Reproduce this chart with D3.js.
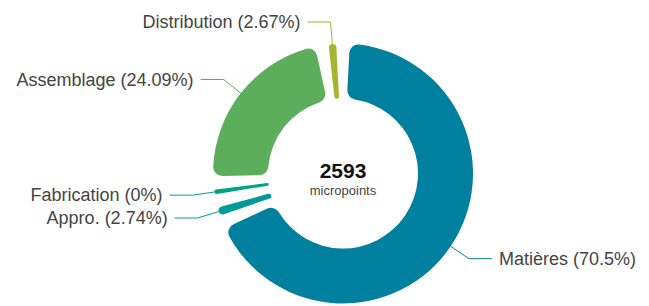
<!DOCTYPE html>
<html>
<head>
<meta charset="utf-8">
<script src="https://cdn.jsdelivr.net/npm/d3@7"></script>
<style>
  html, body { margin: 0; padding: 0; background: #fff; }
  svg { display: block; }
</style>
</head>
<body>
<svg id="chart" width="649" height="306"></svg>
<script>
// ---- data ----
const categories = ["Matières", "Appro.", "Fabrication", "Assemblage", "Distribution"];
const shares = [70.5, 2.74, 0, 24.09, 2.67];           // percent
const colors = ["#00809f", "#009a99", "#02a385", "#5cad5c", "#a6b52f"];
const totalValue = "2593";
const totalUnit = "micropoints";

// ---- layout ----
const cx = 343, cy = 173.5;
const outerR = 130, innerR = 75;
const minAngleDeg = 8;      // minimum slice angle (like ECharts minAngle)
const padDeg = 6;           // angular gap between slices
const cornerR = 9;
const len1 = 22, len2 = 23, textGap = 7;

const toRad = d => d * Math.PI / 180;
const sumShares = d3.sum(shares);
const minShare = minAngleDeg / (360 - minAngleDeg) * sumShares;

const data = categories.map((c, i) => ({ name: c, share: shares[i], color: colors[i] }));

const pie = d3.pie()
  .sort(null)
  .startAngle(0)
  .endAngle(2 * Math.PI)
  .value(d => Math.max(d.share, minShare));

const arcs = pie(data);

const arc = d3.arc()
  .innerRadius(innerR)
  .outerRadius(outerR)
  .cornerRadius(cornerR);

const svg = d3.select("#chart");
const g = svg.append("g").attr("transform", `translate(${cx},${cy})`);

const pad = toRad(padDeg);

g.selectAll("path.slice")
  .data(arcs)
  .join("path")
  .attr("class", "slice")
  .attr("fill", d => d.data.color)
  .attr("d", d => arc({ startAngle: d.startAngle + pad / 2, endAngle: d.endAngle - pad / 2 }));

// label lines + labels
const labelG = g.append("g");
arcs.forEach(d => {
  const mid = (d.startAngle + d.endAngle) / 2;
  const sx = Math.sin(mid), sy = -Math.cos(mid);
  const p0 = [outerR * sx, outerR * sy];
  const p1 = [(outerR + len1) * sx, (outerR + len1) * sy];
  const side = sx >= 0 ? 1 : -1;
  const p2 = [p1[0] + side * len2, p1[1]];
  labelG.append("path")
    .attr("d", d3.line()([p0, p1, p2]))
    .attr("fill", "none")
    .attr("stroke", d.data.color)
    .attr("stroke-width", 1);
  labelG.append("text")
    .attr("x", p2[0] + side * textGap)
    .attr("y", p2[1])
    .attr("dy", "0.35em")
    .attr("text-anchor", side > 0 ? "start" : "end")
    .attr("font-family", "'Liberation Sans', Arial, sans-serif")
    .attr("font-size", 18)
    .attr("fill", "#444")
    .text(`${d.data.name} (${d.data.share}%)`);
});

// center text
g.append("text")
  .attr("x", 0).attr("y", 4.5)
  .attr("text-anchor", "middle")
  .attr("font-family", "'Liberation Sans', Arial, sans-serif")
  .attr("font-weight", "bold")
  .attr("font-size", 21)
  .attr("fill", "#111")
  .text(totalValue);
g.append("text")
  .attr("x", 0).attr("y", 21)
  .attr("text-anchor", "middle")
  .attr("font-family", "'Liberation Sans', Arial, sans-serif")
  .attr("font-size", 13)
  .attr("fill", "#444")
  .text(totalUnit);
</script>
</body>
</html>
